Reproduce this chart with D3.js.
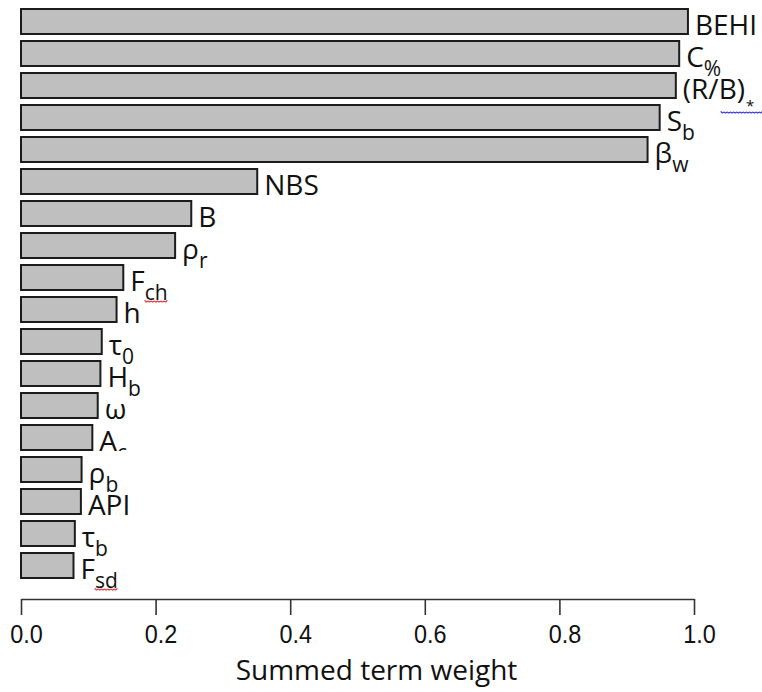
<!DOCTYPE html>
<html>
<head>
<meta charset="utf-8">
<script src="https://cdn.jsdelivr.net/npm/d3@7"></script>
<style>
  html, body { margin: 0; padding: 0; background: #fff; }
  svg { display: block; }
</style>
</head>
<body>
<svg id="chart" width="762" height="692"></svg>
<script>
// Predictor terms, top to bottom: main symbol and subscript
const termBase = ["BEHI", "C", "(R/B)", "S", "β", "NBS", "B", "ρ", "F", "h",
                  "τ", "H", "ω", "A", "ρ", "API", "τ", "F"];
const termSub  = ["", "%", "*", "b", "w", "", "", "r", "ch", "",
                  "0", "b", "", "c", "b", "", "b", "sd"];
// Summed term weight of each term
const weights  = [0.991, 0.978, 0.973, 0.949, 0.931, 0.351, 0.253, 0.229, 0.152, 0.142,
                  0.120, 0.118, 0.114, 0.106, 0.090, 0.089, 0.080, 0.078];
// Axis ticks
const tickValues = [0.0, 0.2, 0.4, 0.6, 0.8, 1.0];
const xTitle = "Summed term weight";
// Subscripts flagged by the spell checker (wavy underline colour)
const flagged = { "ch": "#e0393e", "sd": "#e0393e", "*": "#3a3ae8" };

const rows = termBase.map((b, i) => ({ id: i, base: b, sub: termSub[i], value: weights[i] }));

const svg = d3.select("#chart");

const x = d3.scaleLinear().domain([0, 1]).range([21, 694]);
const y = d3.scaleBand()
  .domain(rows.map(d => d.id))
  .range([9, 578])
  .paddingInner(7 / 32)
  .paddingOuter(0);

// Bars
svg.append("g")
  .selectAll("rect")
  .data(rows)
  .join("rect")
  .attr("x", x(0))
  .attr("y", d => y(d.id))
  .attr("width", d => x(d.value) - x(0))
  .attr("height", y.bandwidth())
  .attr("fill", "#bfbfbf")
  .attr("stroke", "#1c1c1c")
  .attr("stroke-width", 2);

// Clip for the A_c label, whose subscript is cut at the bar's lower edge
const defs = svg.append("defs");
rows.filter(d => d.base === "A" && d.sub === "c").forEach(d => {
  defs.append("clipPath").attr("id", "clip-" + d.id)
    .append("rect")
    .attr("x", 0).attr("y", 0)
    .attr("width", 762).attr("height", y(d.id) + y.bandwidth() + 1);
});

// Term labels at the end of each bar
const labels = svg.append("g")
  .attr("font-family", "'Open Sans', 'Noto Sans', sans-serif")
  .attr("fill", "#111");

rows.forEach(d => {
  const tx = x(d.value) + 7;
  const ty = y(d.id) + y.bandwidth() / 2 + 13;
  const t = labels.append("text")
    .attr("x", tx)
    .attr("y", ty)
    .attr("font-size", 28);
  if (d.base === "A" && d.sub === "c") t.attr("clip-path", "url(#clip-" + d.id + ")");
  t.append("tspan").text(d.base);
  if (d.sub) {
    const star = d.sub === "*";
    t.append("tspan")
      .attr("font-size", star ? 15 : 21)
      .attr("dy", star ? 12 : 9)
      .attr("dx", star ? 1 : 0)
      .text(d.sub);
  }
  if (flagged[d.sub]) {
    // wavy underline beneath the subscript
    const node = t.node();
    const subNode = node.lastChild;
    const bb = subNode.getBBox();
    let x0 = bb.x, x1 = bb.x + bb.width, yw = ty + 11;
    if (d.sub === "*") { x0 = tx + 38; x1 = 764; yw = ty + 14; }
    const pts = [];
    let k = 0;
    for (let px = x0; px <= x1; px += 1.6) {
      pts.push([px, yw + (k % 2 === 0 ? -1.3 : 1.3)]);
      k++;
    }
    labels.append("path")
      .attr("d", d3.line().curve(d3.curveBasis)(pts))
      .attr("fill", "none")
      .attr("stroke", flagged[d.sub])
      .attr("stroke-width", 1.2);
  }
});

// Bottom axis
const axis = svg.append("g")
  .attr("transform", "translate(0,599)")
  .call(d3.axisBottom(x)
    .tickValues(tickValues)
    .tickFormat(d3.format(".1f"))
    .tickSize(16)
    .tickSizeOuter(0));

axis.select(".domain").attr("stroke", "#333").attr("stroke-width", 1.6);
axis.selectAll(".tick line").attr("stroke", "#333").attr("stroke-width", 1.6);
axis.selectAll(".tick text")
  .attr("fill", "#111")
  .attr("font-family", "'Liberation Sans', Arial, sans-serif")
  .attr("font-size", 26)
  .attr("y", 0)
  .attr("dy", 0)
  .attr("text-anchor", "middle")
  .attr("transform", "translate(5,44) scale(0.9,1)")
  .each(function () {
    // keep the label centred after the horizontal squeeze
    const t = d3.select(this);
    const parentX = 0;
    t.attr("x", parentX);
  });

// Axis title
svg.append("text")
  .attr("x", (x(0) + x(1)) / 2 + 19)
  .attr("y", 680)
  .attr("text-anchor", "middle")
  .attr("font-family", "'Open Sans', 'Noto Sans', sans-serif")
  .attr("font-size", 28)
  .attr("fill", "#111")
  .text(xTitle);
</script>
</body>
</html>
